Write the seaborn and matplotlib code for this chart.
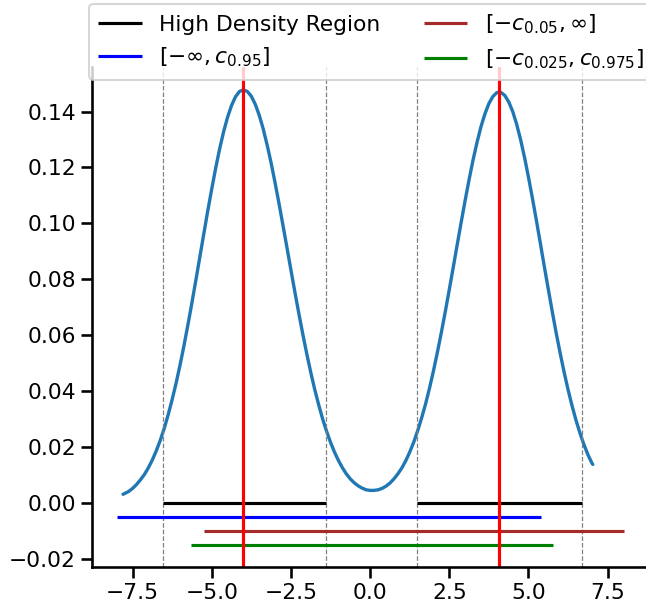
import numpy as np
import pandas as pd
import matplotlib
matplotlib.use("Agg")
import matplotlib.pyplot as plt
import seaborn as sns

# density curve
x_vals = [-7.8, -7.625, -7.5, -7.375, -7.25, -7.125, -7.0, -6.875, -6.75, -6.625,
          -6.5, -6.375, -6.25, -6.125, -6.0, -5.875, -5.75, -5.625, -5.5, -5.375,
          -5.25, -5.125, -5.0, -4.875, -4.75, -4.625, -4.5, -4.375, -4.25, -4.125,
          -4.0, -3.875, -3.75, -3.625, -3.5, -3.375, -3.25, -3.125, -3.0, -2.875,
          -2.75, -2.625, -2.5, -2.375, -2.25, -2.125, -2.0, -1.875, -1.75, -1.625,
          -1.5, -1.375, -1.25, -1.125, -1.0, -0.875, -0.75, -0.625, -0.5, -0.375,
          -0.25, -0.125, 0.0, 0.125, 0.25, 0.375, 0.5, 0.625, 0.75, 0.875,
          1.0, 1.125, 1.25, 1.375, 1.5, 1.625, 1.75, 1.875, 2.0, 2.125,
          2.25, 2.375, 2.5, 2.625, 2.75, 2.875, 3.0, 3.125, 3.25, 3.375,
          3.5, 3.625, 3.75, 3.875, 4.0, 4.08, 4.125, 4.25, 4.375, 4.5,
          4.625, 4.75, 4.875, 5.0, 5.125, 5.25, 5.375, 5.5, 5.625, 5.75,
          5.875, 6.0, 6.125, 6.25, 6.375, 6.5, 6.625, 6.75, 6.875, 7.0,
          7.03]
density = [0.0030, 0.0040, 0.0051, 0.0065, 0.0082, 0.0101, 0.0125, 0.0153, 0.0186, 0.0223,
           0.0266, 0.0315, 0.0369, 0.0428, 0.0493, 0.0563, 0.0638, 0.0716, 0.0797, 0.0880,
           0.0963, 0.1045, 0.1123, 0.1198, 0.1267, 0.1328, 0.1380, 0.1422, 0.1453, 0.1472,
           0.1478, 0.1472, 0.1455, 0.1426, 0.1387, 0.1338, 0.1280, 0.1216, 0.1145, 0.1070,
           0.0992, 0.0913, 0.0833, 0.0754, 0.0677, 0.0603, 0.0533, 0.0467, 0.0406, 0.0351,
           0.0300, 0.0256, 0.0216, 0.0181, 0.0151, 0.0125, 0.0103, 0.0085, 0.0071, 0.0060,
           0.0052, 0.0046, 0.0044, 0.0044, 0.0046, 0.0051, 0.0059, 0.0070, 0.0085, 0.0103,
           0.0124, 0.0150, 0.0181, 0.0216, 0.0257, 0.0303, 0.0353, 0.0410, 0.0472, 0.0539,
           0.0610, 0.0685, 0.0763, 0.0843, 0.0924, 0.1004, 0.1082, 0.1157, 0.1227, 0.1290,
           0.1346, 0.1392, 0.1429, 0.1454, 0.1468, 0.1470, 0.1469, 0.1458, 0.1435, 0.1401,
           0.1355, 0.1300, 0.1236, 0.1165, 0.1089, 0.1010, 0.0928, 0.0845, 0.0764, 0.0684,
           0.0607, 0.0535, 0.0467, 0.0404, 0.0347, 0.0295, 0.0249, 0.0208, 0.0172, 0.0142,
           0.0137]

# interval endpoints
hdr_lo = [-6.55, 1.49]
hdr_hi = [-1.40, 6.68]
modes = [-4.00, 4.08]
lower_tail = (-7.99, 5.41)     # [-inf, c_0.95]
upper_tail = (-5.23, 8.02)     # [-c_0.05, inf]
two_sided = (-5.65, 5.76)      # [-c_0.025, c_0.975]
interval_y = [0.0, -0.005, -0.010, -0.015]

sns.set_theme(style="ticks", context="talk", font_scale=0.95,
              rc={"xtick.major.size": 8, "ytick.major.size": 8,
                  "axes.edgecolor": "black", "xtick.color": "black",
                  "ytick.color": "black", "text.color": "black",
                  "axes.labelcolor": "black"})

fig = plt.figure(figsize=(6.46, 6.02), dpi=100)
ax = fig.add_axes([92 / 646, 0.0578, 557.5 / 646, 0.8306])

df = pd.DataFrame({"x": x_vals, "density": density})
sns.lineplot(data=df, x="x", y="density", ax=ax, color="#1f77b4", linewidth=2.4)

for v in hdr_lo + hdr_hi:
    ax.axvline(v, color="gray", linestyle="--", linewidth=0.9)

ax.hlines([interval_y[0]] * 2, hdr_lo, hdr_hi, color="black", linewidth=2.25,
          label="High Density Region")
ax.hlines(interval_y[1], *lower_tail, color="blue", linewidth=2.25,
          label=r"$[-\infty, c_{0.95}]$")
ax.hlines(interval_y[2], *upper_tail, color="brown", linewidth=2.25,
          label=r"$[-c_{0.05}, \infty]$")
ax.hlines(interval_y[3], *two_sided, color="green", linewidth=2.25,
          label=r"$[-c_{0.025}, c_{0.975}]$")

for m in modes:
    ax.axvline(m, color="red", linewidth=2.25)

ax.set_xlim(-8.78, 8.82)
ax.set_ylim(-0.0231, 0.1559)
ax.set_xticks([-7.5, -5.0, -2.5, 0.0, 2.5, 5.0, 7.5])
ax.set_yticks([-0.02, 0.0, 0.02, 0.04, 0.06, 0.08, 0.10, 0.12, 0.14])
ax.set_xlabel("")
ax.set_ylabel("")
sns.despine(ax=ax)

ax.legend(loc="upper center", bbox_to_anchor=(0.5, 1.148), ncol=2)

fig.savefig("out.png", dpi=100)
